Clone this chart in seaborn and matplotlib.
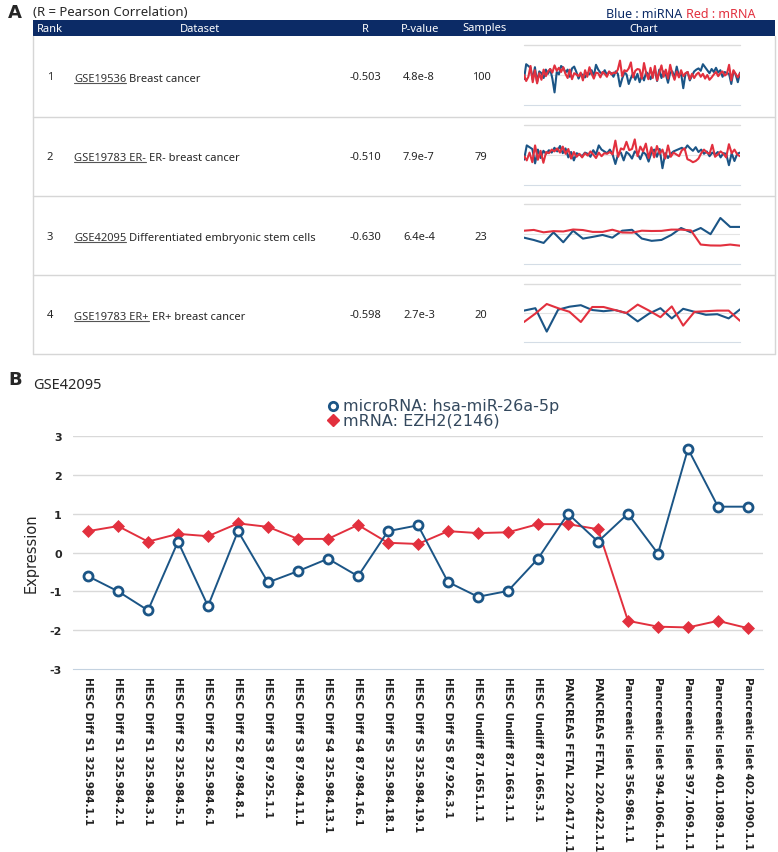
import matplotlib
matplotlib.use("Agg")
import matplotlib.pyplot as plt
from matplotlib.lines import Line2D
from matplotlib.patches import Rectangle
import seaborn as sns
import pandas as pd

sns.set_style("white")
plt.rcParams['font.family'] = ['DejaVu Sans']

W, H = 778, 853

# ---- panel A table ----
ranks = [1, 2, 3, 4]
dataset_ids = ["GSE19536", "GSE19783 ER-", "GSE42095", "GSE19783 ER+"]
dataset_names = ["Breast cancer", "ER- breast cancer",
                 "Differentiated embryonic stem cells", "ER+ breast cancer"]
r_values = ["-0.503", "-0.510", "-0.630", "-0.598"]
p_values = ["4.8e-8", "7.9e-7", "6.4e-4", "2.7e-3"]
samples = [100, 79, 23, 20]

# sparkline series
spark_mirna_1 = [-0.7, 1.8, 1.5, 1.2, -0.8, 1.3, -1.2, 0.6, 0.3, -0.5,
                 0.9, 0.2, 1.0, -0.6, -2.9, 0.5, 0.1, 1.5, 1.2, 0.4,
                 0.9, -0.3, 1.1, 1.4, 0.5, -0.6, 0.2, 0.0, -0.4, 0.3,
                 0.1, 0.8, -0.2, 1.7, 0.9, 0.4, 0.2, 0.8, 0.0, 0.5,
                 0.3, -0.3, 0.6, 0.2, -1.9, -0.6, 0.4, 0.1, -1.5, -0.5,
                 0.3, -0.8, 0.2, -1.2, -0.1, -0.9, 0.5, 0.1, -0.7, 0.3,
                 0.8, -1.0, 0.9, -0.5, 0.6, 0.1, -1.3, 0.4, 0.6, -0.5,
                 1.4, -0.2, 0.3, -2.2, 0.2, 0.5, -0.9, -0.1, 0.6, 0.9,
                 1.1, 0.7, 1.8, 1.3, 0.8, 0.3, 1.0, 0.5, 1.2, 0.4,
                 0.8, -0.3, 0.5, 0.3, 0.2, -1.5, 0.6, 0.1, -1.2, 0.4]
spark_mrna_1 = [0.0, -1.0, -0.3, 1.5, -1.2, 0.8, -1.4, 0.3, -0.8, 0.9,
                -0.2, 0.6, 1.0, 0.4, 1.6, 0.7, 1.2, 0.5, 1.3, 0.2,
                -0.5, 0.9, -0.7, 0.3, 0.1, -0.2, 0.4, -0.9, 0.8, -0.3,
                1.3, 0.2, -0.6, 0.4, 0.3, -0.4, 0.5, 0.2, -0.3, 0.6,
                0.1, 0.4, 0.3, 0.9, 2.4, -0.2, 0.8, 0.6, 1.1, 2.1,
                -0.4, 0.7, 1.0, 0.9, -0.6, 2.0, 0.3, -0.7, 1.2, -0.5,
                1.5, -0.9, 0.4, 1.6, -0.3, 0.9, -0.6, 1.7, 0.2, -0.8,
                0.6, -0.4, 0.8, -0.2, 0.3, 0.5, -0.7, 0.2, -0.5, 0.1,
                0.4, -0.3, 0.2, -0.6, 0.0, -0.8, -0.4, 0.1, 0.5, -0.2,
                0.3, 0.6, -0.1, 0.2, 1.7, -0.9, 0.8, 0.2, -0.4, 0.3]
spark_mirna_2 = [-0.8, 1.6, 1.3, 1.0, -1.4, 0.9, -0.5, 0.7, 0.2, 0.8,
                 0.4, 1.2, 0.6, 1.5, 0.3, 1.1, -0.4, 0.5, -0.9, 0.3,
                 0.1, -0.2, 0.4, 0.2, -0.3, 0.8, 0.1, 1.6, 0.9, 0.6,
                 0.3, 0.9, 0.1, -1.5, 0.2, 0.4, -0.9, 0.5, 0.1, -0.6,
                 0.6, 0.2, -0.7, 0.5, 0.1, -1.1, 0.4, 0.9, -0.3, 1.0,
                 -2.2, 0.3, -0.5, 0.2, 0.6, 0.8, 1.0, 1.2, 0.9, 1.6,
                 1.1, 0.7, 1.3, 0.5, 0.9, 0.2, 0.6, -0.2, 0.4, 0.1,
                 0.5, -0.4, 0.3, 0.2, -1.7, 0.3, -1.0, 0.2, 0.4]
spark_mrna_2 = [-0.2, -0.9, 0.4, -1.2, 1.6, -0.8, 0.7, -1.3, 0.5, 0.3,
                0.9, 0.6, 1.1, 0.4, 1.4, 0.2, 1.0, -0.6, 0.5, -0.3,
                0.2, -0.4, 0.3, -0.1, 0.6, 0.1, -0.5, 0.4, -0.2, 0.3,
                0.2, 0.5, 0.1, 2.4, -0.3, 1.1, 0.9, 2.2, 0.8, 1.0,
                2.6, -0.2, 1.4, 0.6, 1.9, -0.5, 1.3, -0.4, 1.5, 0.2,
                0.9, -0.6, 1.6, -0.3, 0.4, 0.1, -0.2, 0.8, 1.1, -0.7,
                -0.9, -1.2, -1.0, -0.6, 0.3, 0.9, 0.4, 0.2, 1.7, -0.3,
                0.1, 0.6, 0.2, -0.4, 1.8, 0.3, 0.9, 0.1, -0.2]
spark_mirna_4 = [0.4, 0.8, -3.1, 0.55, 1.05, 1.3, 0.5, 0.3, 0.5, 0.0,
                 -1.4, -0.1, 0.8, -0.9, 0.7, 0.2, -0.3, -0.2, -0.9, 0.6]
spark_mrna_4 = [-1.5, -0.1, 1.5, 0.8, 0.2, -1.5, 1.0, 1.0, 0.5, 0.0,
                1.4, 0.4, -0.7, 1.1, -2.1, 0.2, 0.3, 0.4, 0.4, -1.3]

# ---- panel B (GSE42095) ----
sample_labels = [
    "HESC Diff S1 325.984.1.1", "HESC Diff S1 325.984.2.1", "HESC Diff S1 325.984.3.1",
    "HESC Diff S2 325.984.5.1", "HESC Diff S2 325.984.6.1", "HESC Diff S2 87.984.8.1",
    "HESC Diff S3 87.925.1.1", "HESC Diff S3 87.984.11.1", "HESC Diff S4 325.984.13.1",
    "HESC Diff S4 87.984.16.1", "HESC Diff S5 325.984.18.1", "HESC Diff S5 325.984.19.1",
    "HESC Diff S5 87.926.3.1", "HESC Undiff 87.1651.1.1", "HESC Undiff 87.1663.1.1",
    "HESC Undiff 87.1665.3.1", "PANCREAS FETAL 220.417.1.1", "PANCREAS FETAL 220.422.1.1",
    "Pancreatic Islet 356.986.1.1", "Pancreatic Islet 394.1066.1.1",
    "Pancreatic Islet 397.1069.1.1", "Pancreatic Islet 401.1089.1.1",
    "Pancreatic Islet 402.1090.1.1"]
mirna_expr = [-0.61, -1.0, -1.49, 0.28, -1.38, 0.55, -0.77, -0.48, -0.16, -0.61,
              0.55, 0.70, -0.76, -1.14, -0.99, -0.16, 1.0, 0.28, 1.0, -0.03,
              2.67, 1.18, 1.18]
mrna_expr = [0.55, 0.68, 0.28, 0.48, 0.42, 0.75, 0.66, 0.35, 0.35, 0.71,
             0.25, 0.22, 0.55, 0.50, 0.52, 0.73, 0.73, 0.60, -1.76, -1.91,
             -1.93, -1.76, -1.95]
mirna_name = "microRNA: hsa-miR-26a-5p"
mrna_name = "mRNA: EZH2(2146)"

BLUE = "#1b5586"
RED = "#e2303e"
NAVY = "#0c2b66"


def fx(px):
    return px / W


def fy(py):
    return 1 - py / H


fig = plt.figure(figsize=(W / 100, H / 100), dpi=100)
renderer = fig.canvas.get_renderer()
tfont = ['Noto Sans', 'DejaVu Sans']

# ---------- panel A ----------
fig.text(fx(8), fy(13), "A", fontsize=13, fontweight='bold', va='center')
fig.text(fx(33), fy(13), "(R = Pearson Correlation)", fontsize=9.5,
         fontweight='semibold', va='center', family=tfont)
red_t = fig.text(fx(755), fy(14), "Red : mRNA", fontsize=9, color=RED,
                 fontweight='semibold', ha='right', va='center', family=tfont)
bb = red_t.get_window_extent(renderer)
fig.text((bb.x0 - 3) / W, fy(14), "Blue : miRNA", fontsize=9, color=NAVY,
         fontweight='semibold', ha='right', va='center', family=tfont)

fig.add_artist(Rectangle((fx(33), fy(37)), fx(775) - fx(33), (37 - 21) / H,
                         transform=fig.transFigure, color=NAVY, lw=0))
headers = [("Rank", 50), ("Dataset", 200), ("R", 365), ("P-value", 420),
           ("Samples", 484), ("Chart", 644)]
for txt, x in headers:
    fig.text(fx(x), fy(29), txt, fontsize=8, color='white', fontweight='semibold',
             ha='center', va='center', family=tfont)

# table borders
for x in (33, 775):
    fig.add_artist(Line2D([fx(x), fx(x)], [fy(37), fy(355)], color='#d6d6d6', lw=1))
for y in (118, 197, 276, 355):
    fig.add_artist(Line2D([fx(33), fx(775)], [fy(y), fy(y)], color='#d6d6d6', lw=1))

row_centers = [78, 157, 237, 316]
spark_boxes = [(46, 106), (126, 186), (205, 265), (285, 343)]
spark_mirna = [spark_mirna_1, spark_mirna_2, mirna_expr, spark_mirna_4]
spark_mrna = [spark_mrna_1, spark_mrna_2, mrna_expr, spark_mrna_4]
tick_steps = [25, 25, 10, 5]

for i in range(4):
    yc = row_centers[i]
    fig.text(fx(50), fy(yc), str(ranks[i]), fontsize=8, ha='center', va='center',
             family=tfont)
    t = fig.text(fx(74), fy(yc + 4), dataset_ids[i], fontsize=8, va='baseline',
                 color='#333333', family=tfont)
    bb = t.get_window_extent(renderer)
    fig.add_artist(Line2D([bb.x0 / W, bb.x1 / W], [fy(yc + 6), fy(yc + 6)],
                          color='#555555', lw=0.8))
    fig.text((bb.x1 + 3) / W, fy(yc + 4), dataset_names[i], fontsize=8,
             va='baseline', family=tfont)
    fig.text(fx(381), fy(yc), r_values[i], fontsize=8, ha='right', va='center',
             family=tfont)
    fig.text(fx(419), fy(yc), p_values[i], fontsize=8, ha='center', va='center',
             family=tfont)
    fig.text(fx(481), fy(yc), str(samples[i]), fontsize=8, ha='center', va='center',
             family=tfont)

    top, bot = spark_boxes[i]
    sax = fig.add_axes([fx(524), fy(bot), (740 - 524) / W, (bot - top) / H])
    n = len(spark_mirna[i])
    half = (bot - top) / 2 / 6.0
    sax.axhline(0, color='#e4e4e4', lw=0.8, zorder=0)
    sax.axhline(half, color='#dcdcdc', lw=1, zorder=0, clip_on=False)
    sns.lineplot(x=list(range(n)), y=spark_mirna[i], ax=sax, color=BLUE, lw=1.5)
    sns.lineplot(x=list(range(n)), y=spark_mrna[i], ax=sax, color=RED, lw=1.5)
    sax.set_xlim(0, n - 1)
    sax.set_ylim(-half, half)
    sax.set_xticks(list(range(0, n, tick_steps[i])))
    sax.set_xticklabels([])
    sax.set_yticks([])
    sax.tick_params(axis='x', length=2.5, color='#c8d4e0', width=0.8)
    for s in ('top', 'left', 'right'):
        sax.spines[s].set_visible(False)
    sax.spines['bottom'].set_color('#d4dde6')
    sax.set_xlabel("")
    sax.set_ylabel("")

# ---------- panel B ----------
fig.text(fx(8), fy(380), "B", fontsize=13, fontweight='bold', va='center')
fig.text(fx(33), fy(386), "GSE42095", fontsize=10.5, fontweight='semibold',
         va='center', family=tfont)

ax = fig.add_axes([fx(73), fy(670), (763 - 73) / W, (670 - 437) / H])
df = pd.DataFrame({"sample": list(range(len(sample_labels))),
                   "mirna": mirna_expr, "mrna": mrna_expr})
for v in range(-2, 4):
    ax.axhline(v, color='#d9d9d9', lw=1, zorder=0)
sns.lineplot(data=df, x="sample", y="mrna", ax=ax, color=RED, lw=1.4,
             marker='D', markersize=6, markerfacecolor=RED, markeredgecolor=RED,
             markeredgewidth=0.5, zorder=3)
sns.lineplot(data=df, x="sample", y="mirna", ax=ax, color=BLUE, lw=1.4,
             marker='o', markersize=6.5, markerfacecolor='white', markeredgecolor=BLUE,
             markeredgewidth=2, zorder=4)
ax.set_xlim(-0.5, len(sample_labels) - 0.5)
ax.set_ylim(-3, 3)
ax.set_yticks(range(-3, 4))
ax.set_yticklabels([str(v) for v in range(-3, 4)], fontsize=8, fontweight='bold')
ax.set_xticks(range(len(sample_labels)))
ax.set_xticklabels(sample_labels, rotation=270, fontsize=7.5, fontweight='bold',
                   va='top', ha='center', color='#222222')
ax.set_xticks([k - 0.5 for k in range(len(sample_labels) + 1)], minor=True)
ax.tick_params(axis='x', which='major', length=0, pad=5)
ax.tick_params(axis='x', which='minor', length=4, color='#c8d4e0')
ax.tick_params(axis='y', length=0, pad=8)
for s in ('top', 'left', 'right'):
    ax.spines[s].set_visible(False)
ax.spines['bottom'].set_color('#c4d2e0')
ax.set_xlabel("")
ax.set_ylabel("Expression", fontsize=10.5, labelpad=8)

# legend, drawn by hand to keep the two entries tight
fig.add_artist(Line2D([fx(333)], [fy(407)], ls='none', marker='o', markersize=6,
                      markerfacecolor='white', markeredgecolor=BLUE, markeredgewidth=2))
fig.add_artist(Line2D([fx(333)], [fy(421)], ls='none', marker='D', markersize=6,
                      color=RED))
fig.text(fx(343), fy(407), mirna_name, fontsize=11.5, color='#34495e', va='center')
fig.text(fx(343), fy(421), mrna_name, fontsize=11.5, color='#34495e', va='center')

fig.savefig("out.png", dpi=100)
